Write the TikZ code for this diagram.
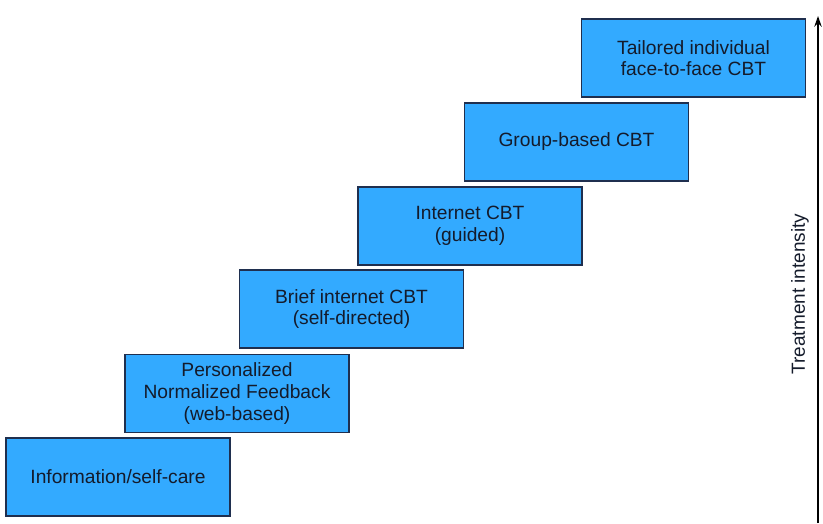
\documentclass[tikz,border=0pt]{standalone}
\usepackage{fontspec}
\setmainfont{Liberation Sans}
\usetikzlibrary{arrows.meta, positioning}
\definecolor{cstep}{HTML}{33AAFF}
\definecolor{cedge}{HTML}{1F2F4F}
\definecolor{ctext}{HTML}{141B2B}
\tikzset{
  every picture/.style={font=\fontsize{16.4}{18.4}\selectfont, x=0.03cm, y=-0.03cm},
  stepbox/.style={draw=cedge, fill=cstep, text=ctext, line width=0.9pt, align=center,
    minimum width=6.72cm, minimum height=2.34cm, inner sep=0pt},
  axis/.style={-{Stealth[length=3.2mm, width=2.2mm]}, line width=1.6pt},
  axislabel/.style={rotate=90, text=ctext, font=\fontsize{16.2}{18}\selectfont},
}
\begin{document}
\begin{tikzpicture}
  \useasboundingbox (0,0) rectangle (823,523);
  % the steps, lowest to highest intensity
  \foreach \x/\y/\t [count=\i] in {
      118/477/{Information/self-care},
      237/393.5/{Personalized\\Normalized Feedback\\(web-based)},
      351.5/309/{Brief internet CBT\\(self-directed)},
      470/226/{Internet CBT\\(guided)},
      576.5/142/{Group-based CBT},
      693.5/58/{Tailored individual\\face-to-face CBT}}
    \node[stepbox] (step\i) at (\x,\y) {\t};
  % intensity axis
  \coordinate (axbase) at (818,523);
  \coordinate (axtop) at (818,16);
  \draw[axis] (axbase) -- (axtop);
  \node[axislabel] (axlabel) at (800,294) {Treatment intensity};
\end{tikzpicture}
\end{document}
